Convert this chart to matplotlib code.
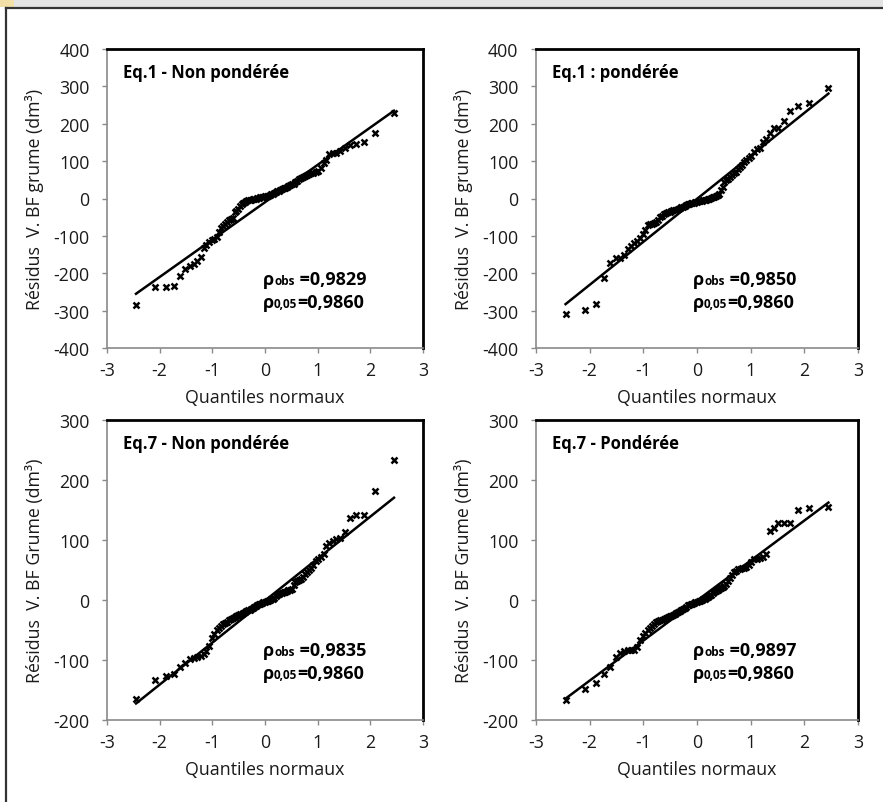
import matplotlib
matplotlib.use("Agg")
import matplotlib.pyplot as plt
from matplotlib.offsetbox import TextArea, HPacker, AnnotationBbox
from matplotlib.patches import Rectangle
from matplotlib.lines import Line2D

plt.rcParams['font.family'] = ['Open Sans', 'DejaVu Sans']

# Normal quantiles (x positions), shared by all four panels
quantiles = [-2.449, -2.083, -1.880, -1.733, -1.616, -1.518, -1.433, -1.357, -1.288, -1.224,
             -1.166, -1.111, -1.060, -1.010, -0.963, -0.919, -0.876, -0.834, -0.794, -0.756,
             -0.718, -0.681, -0.645, -0.610, -0.576, -0.543, -0.510, -0.477, -0.445, -0.414,
             -0.383, -0.352, -0.322, -0.292, -0.262, -0.232, -0.203, -0.173, -0.144, -0.115,
             -0.086, -0.057, -0.029, 0.000, 0.029, 0.057, 0.086, 0.115, 0.144, 0.173,
             0.203, 0.232, 0.262, 0.292, 0.322, 0.352, 0.383, 0.414, 0.445, 0.477,
             0.510, 0.543, 0.576, 0.610, 0.645, 0.681, 0.718, 0.756, 0.794, 0.834,
             0.876, 0.919, 0.963, 1.010, 1.060, 1.111, 1.166, 1.224, 1.288, 1.357,
             1.433, 1.518, 1.616, 1.733, 1.880, 2.083, 2.449]

res_eq1_np = [-285, -238, -238, -235, -208, -189, -180, -176, -166, -157,
              -133, -125, -116, -111, -108, -104, -90, -80, -73, -67,
              -62, -58, -55, -52, -37, -33, -28, -20, -14, -11,
              -9, -7, -5, -4, -3, -2, -1, 0, 1, 2,
              3, 4, 5, 6, 7, 8, 9, 11, 13, 15,
              17, 19, 21, 23, 25, 27, 29, 31, 33, 36,
              38, 40, 44, 48, 52, 55, 58, 61, 64, 66,
              67, 69, 70, 73, 82, 95, 103, 120, 121, 123,
              127, 135, 142, 145, 151, 176, 229]

res_eq1_p = [-308, -297, -281, -212, -172, -160, -158, -152, -135, -128,
             -118, -115, -105, -96, -85, -72, -68, -67, -66, -64,
             -57, -50, -47, -42, -38, -36, -35, -34, -32, -31,
             -30, -28, -26, -24, -22, -19, -17, -15, -14, -13,
             -12, -11, -10, -9, -8, -7, -6, -5, -4, -3,
             -2, 0, 2, 4, 5, 7, 9, 12, 22, 32,
             45, 50, 52, 57, 62, 68, 72, 78, 83, 90,
             97, 103, 108, 115, 125, 133, 136, 152, 158, 174,
             189, 189, 207, 235, 248, 255, 296]

res_eq7_np = [-165, -133, -127, -124, -112, -105, -98, -96, -95, -93,
              -90, -85, -77, -64, -56, -50, -46, -43, -40, -38,
              -36, -34, -32, -30, -28, -26, -25, -24, -23, -21,
              -20, -19, -17, -16, -15, -13, -12, -10, -9, -7,
              -6, -5, -4, -3, -2, -1, 0, 1, 2, 4,
              6, 8, 10, 11, 12, 13, 14, 15, 16, 17,
              19, 25, 30, 32, 33, 35, 39, 43, 46, 50,
              54, 58, 65, 68, 72, 76, 90, 95, 99, 101,
              103, 113, 136, 141, 141, 182, 234]

res_eq7_p = [-167, -148, -138, -123, -112, -95, -88, -85, -84, -84,
             -83, -78, -66, -60, -55, -50, -46, -43, -40, -37,
             -35, -34, -33, -31, -30, -28, -27, -26, -25, -23,
             -22, -20, -19, -17, -15, -13, -11, -9, -8, -7,
             -6, -5, -4, -3, -2, -1, 0, 1, 2, 3,
             5, 7, 9, 11, 13, 15, 16, 18, 20, 22,
             24, 27, 32, 37, 42, 46, 49, 51, 52, 53,
             54, 55, 58, 64, 68, 69, 70, 72, 77, 115,
             120, 129, 129, 129, 150, 153, 155]

titles = ["Eq.1 - Non pondérée", "Eq.1 : pondérée", "Eq.7 - Non pondérée", "Eq.7 - Pondérée"]
residuals = [res_eq1_np, res_eq1_p, res_eq7_np, res_eq7_p]
line_slopes = [100, 115, 70, 66.7]
line_intercepts = [-10, -1, -1, -1]
rho_obs = ["0,9829", "0,9850", "0,9835", "0,9897"]
rho_crit = "0,9860"
ylabels = ["Résidus  V. BF grume (dm³)", "Résidus  V. BF grume (dm³)",
           "Résidus  V. BF Grume (dm³)", "Résidus  V. BF Grume (dm³)"]
ylims = [(-400, 400), (-400, 400), (-200, 300), (-200, 300)]
yticks = [list(range(-400, 401, 100)), list(range(-400, 401, 100)),
          list(range(-200, 301, 100)), list(range(-200, 301, 100))]
xticks = [-3, -2, -1, 0, 1, 2, 3]

W, H = 883, 803
fig = plt.figure(figsize=(W / 100, H / 100), dpi=100)

# page frame
fig.patches.append(Rectangle((0, 1 - 8 / H), 1, 8 / H, transform=fig.transFigure,
                             facecolor='#e3e3e3', edgecolor='none', zorder=0))
fig.patches.append(Rectangle((0, 1 - 8 / H), 14 / W, 8 / H, transform=fig.transFigure,
                             facecolor='#f3dfa8', edgecolor='none', zorder=0))
fig.lines.append(Line2D([5.5 / W, 1], [1 - 8.5 / H, 1 - 8.5 / H], transform=fig.transFigure,
                        color='#333333', lw=1.6))
fig.lines.append(Line2D([5.5 / W, 5.5 / W], [0, 1 - 8.5 / H], transform=fig.transFigure,
                        color='#333333', lw=1.6))

boxes = [(107, 50, 423, 349), (536, 50, 858, 349), (107, 421, 423, 721), (536, 421, 858, 721)]
FS = 12.8

for i in range(4):
    l, t, r, b = boxes[i]
    ax = fig.add_axes([l / W, 1 - b / H, (r - l) / W, (b - t) / H])
    x = quantiles
    y = residuals[i]
    xs = [min(x), max(x)]
    ys = [line_slopes[i] * v + line_intercepts[i] for v in xs]
    ax.plot(xs, ys, color='black', lw=1.8, zorder=2)
    ax.plot(x, y, linestyle='none', marker='x', markersize=4.2, mew=1.8, color='black', zorder=3)
    ax.set_xlim(-3, 3)
    ax.set_ylim(*ylims[i])
    ax.set_xticks(xticks)
    ax.set_yticks(yticks[i])
    ax.set_xticklabels([str(v) for v in xticks])
    ax.set_yticklabels([str(v) for v in yticks[i]])
    for s in ['left', 'bottom']:
        ax.spines[s].set_color('#8a8a8a')
        ax.spines[s].set_linewidth(1.2)
    for s in ['top', 'right']:
        ax.spines[s].set_color('black')
        ax.spines[s].set_linewidth(2.0)
    ax.tick_params(direction='out', length=3.6, width=1, color='#8a8a8a',
                   labelsize=FS, labelcolor='#1a1a1a')
    ax.tick_params(axis='y', pad=9)
    ax.tick_params(axis='x', pad=6)
    ax.set_xlabel("Quantiles normaux", fontsize=FS, color='#1a1a1a', labelpad=6)
    ax.set_ylabel(ylabels[i], fontsize=FS, color='#1a1a1a', labelpad=7)
    ax.text(16 / (r - l), 1 - 23 / (b - t), titles[i], transform=ax.transAxes,
            fontsize=12, fontweight='bold', va='center', ha='left', color='black')
    # rho annotations
    for k, (sub, val) in enumerate([("obs", " =" + rho_obs[i]), ("0,05", "=" + rho_crit)]):
        pk = HPacker(children=[
            TextArea("ρ", textprops=dict(size=13, weight='bold', color='black')),
            TextArea(sub, textprops=dict(size=8.5, weight='bold', color='black')),
            TextArea(val, textprops=dict(size=13, weight='bold', color='black')),
        ], align='baseline', pad=0, sep=0)
        yoff = [230, 253][k]
        ab = AnnotationBbox(pk, ((263 - 107) / (423 - 107) if i % 2 == 0 else (693 - 536) / (858 - 536),
                                 1 - yoff / (b - t)),
                            xycoords=ax.transAxes, box_alignment=(0, 0.5), frameon=False, pad=0)
        ax.add_artist(ab)

fig.savefig("out.png", dpi=100)
